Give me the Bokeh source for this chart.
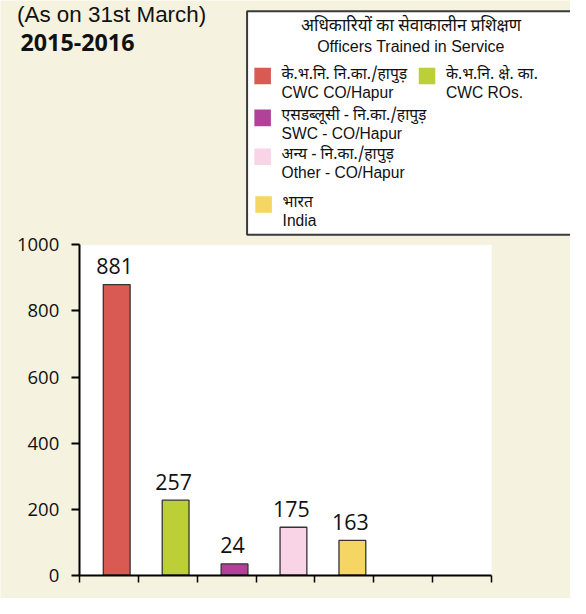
import numpy as np
from bokeh.plotting import figure
from bokeh.models import ColumnDataSource, FixedTicker, Range1d
from bokeh.core.properties import value
from bokeh.embed import file_html
from bokeh.resources import INLINE

# ---------------- data ----------------
categories = ["CWC CO/Hapur", "CWC ROs.", "SWC - CO/Hapur", "Other - CO/Hapur", "India", "", ""]
bar_heights = [880, 227, 34, 145, 105]             # drawn bar heights as seen in the picture
label_values = ["881", "257", "24", "175", "163"]  # data labels printed above the bars
colors = ["#d85a53", "#bccf36", "#b1429a", "#f8d4e6", "#f5d662"]
y_ticks = [0, 200, 400, 600, 800, 1000]
y_max = 1000

legend_title_hi = "अधिकारियों का सेवाकालीन प्रशिक्षण"
legend_title_en = "Officers Trained in Service"
legend_hindi = ["के.भ.नि. नि.का./हापुड़", "के.भ.नि. क्षे. का.", "एसडब्लूसी - नि.का./हापुड़",
                "अन्य - नि.का./हापुड़", "भारत"]
legend_english = ["CWC CO/Hapur", "CWC ROs.", "SWC - CO/Hapur", "Other - CO/Hapur", "India"]
heading_1 = "(As on 31st March)"
heading_2 = "2015-2016"

# ---------------- style / layout ----------------
BG = "#f5f2e0"
INK = "#111111"
NUM_FONT = "Open Sans"
ARIAL = "Liberation Sans"
HINDI = "Noto Sans Devanagari, Lohit Devanagari, FreeSans, Noto Sans, sans-serif"

W, H = 570, 598
REF_W, REF_H = 586, 614          # layout designed in reference-pixel space
S = W / REF_W


def fs(px):
    return f"{px * S:.1f}px"


# chart area in reference pixels
CH_LEFT, CH_RIGHT = 81, 505
CH_ZERO, CH_TOP = 590, 251
ncat = len(categories)
ux = ncat / (CH_RIGHT - CH_LEFT)        # data units per ref px (x)
uy = y_max / (CH_ZERO - CH_TOP)         # data units per ref px (y)

p = figure(width=W, height=H, output_backend="svg", toolbar_location=None, title=None,
           x_range=Range1d(-CH_LEFT * ux, (REF_W - CH_LEFT) * ux),
           y_range=Range1d(-(REF_H - CH_ZERO) * uy, CH_ZERO * uy),
           min_border=0, background_fill_color=BG, border_fill_color=BG,
           outline_line_color=None)
p.extra_x_ranges = {"px": Range1d(0, REF_W)}
p.extra_y_ranges = {"px": Range1d(REF_H, 0)}
p.xgrid.visible = False
p.ygrid.visible = False

# white plot area
p.quad(left=[0], right=[ncat], bottom=[0], top=[y_max], fill_color="white", line_color=None)

# ---- axes, pinned inside the frame ----
p.yaxis.fixed_location = 0
p.yaxis.bounds = (0, y_max)
p.yaxis.ticker = FixedTicker(ticks=y_ticks)
p.yaxis.minor_tick_line_color = None
p.yaxis.major_tick_in = 0
p.yaxis.major_tick_out = 8
p.yaxis.major_tick_line_width = 2
p.yaxis.major_tick_line_color = "black"
p.yaxis.axis_line_width = 2
p.yaxis.axis_line_color = "black"
p.yaxis.major_label_text_font = NUM_FONT
p.yaxis.major_label_text_font_size = fs(19)
p.yaxis.major_label_text_color = INK
p.yaxis.major_label_standoff = 12

x_ticks = list(range(ncat + 1))
p.xaxis.fixed_location = 0
p.xaxis.bounds = (0, ncat)
p.xaxis.ticker = FixedTicker(ticks=x_ticks)
p.xaxis.minor_tick_line_color = None
p.xaxis.major_tick_in = 0
p.xaxis.major_tick_out = 7
p.xaxis.major_tick_line_width = 1.5
p.xaxis.major_tick_line_color = "black"
p.xaxis.axis_line_width = 2
p.xaxis.axis_line_color = "black"
p.xaxis.major_label_overrides = {t: "" for t in x_ticks}
p.xaxis.major_label_text_font_size = "1px"
p.xaxis.major_label_standoff = 0

# ---- bars + data labels ----
n = len(bar_heights)
src = ColumnDataSource(dict(x=np.arange(n) + 0.5 + 0.135, top=bar_heights,
                            label=label_values, color=colors))
p.vbar(x="x", top="top", bottom=0, width=0.455, fill_color="color",
       line_color="#333333", line_width=1.3, source=src)
p.text(x="x", y="top", text="label", source=src, text_align="center", text_baseline="middle",
       x_offset=-2, y_offset=-18.5, text_font=value(NUM_FONT), text_font_size=fs(22),
       text_color=INK)

# ---- headings (reference-pixel coordinates, vertical centres) ----
PX = dict(x_range_name="px", y_range_name="px")
p.text(x=[17], y=[14.5], text=[heading_1], text_font=value(ARIAL), text_font_size=fs(23),
       text_color=INK, text_align="left", text_baseline="middle", **PX)
p.text(x=[20.5], y=[43], text=[heading_2], text_font=value(NUM_FONT), text_font_style="bold",
       text_font_size=fs(24), text_color=INK, text_align="left", text_baseline="middle", **PX)

# ---- legend ----
p.quad(left=[253.5], right=[600], top=[11], bottom=[240.5], fill_color="white",
       line_color="#3a3a3a", line_width=2, **PX)
p.text(x=[422], y=[27], text=[legend_title_hi], text_font=value(HINDI), text_font_size=fs(17.5),
       text_color=INK, text_align="center", text_baseline="middle", **PX)
p.text(x=[422], y=[47.5], text=[legend_title_en], text_font=value(ARIAL), text_font_size=fs(16.5),
       text_color=INK, text_align="center", text_baseline="middle", **PX)

swatch_x = [261, 430, 261, 261, 262]
swatch_y = [69, 69, 112, 152, 201]
SW = 17
sx = np.array(swatch_x, dtype=float)
sy = np.array(swatch_y, dtype=float)
p.quad(left=sx, right=sx + SW, top=sy, bottom=sy + SW, fill_color=colors, line_color=None, **PX)
p.text(x=sx + 28, y=sy + 7, text=legend_hindi, text_font=value(HINDI), text_font_size=fs(16),
       text_color=INK, text_align="left", text_baseline="middle", **PX)
p.text(x=sx + 28, y=sy + 25, text=legend_english, text_font=value(ARIAL), text_font_size=fs(16),
       text_color=INK, text_align="left", text_baseline="middle", **PX)

open("out.html", "w").write(file_html(p, INLINE))
